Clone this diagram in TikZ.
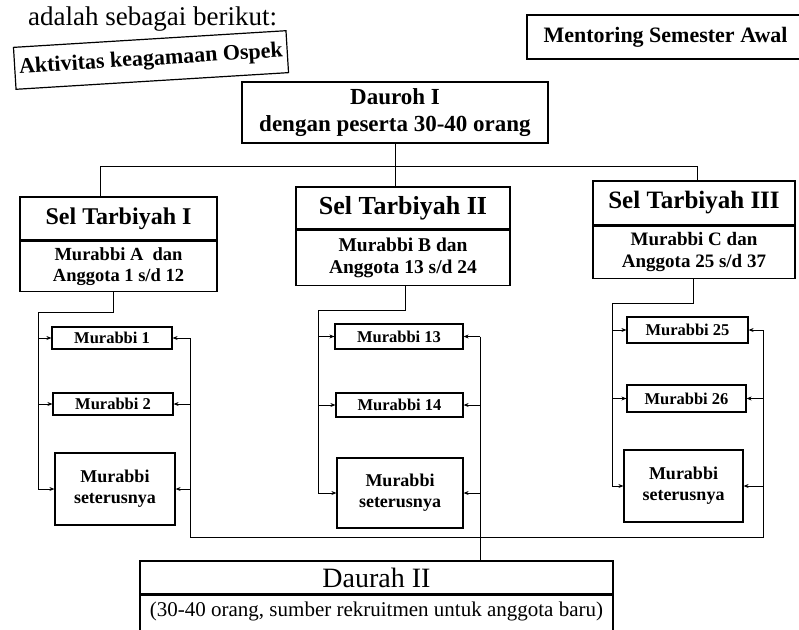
\documentclass[tikz,border=0pt]{standalone}
\usepackage{fontspec}
\setmainfont{Liberation Serif}
\usetikzlibrary{arrows.meta}
\begin{document}
\begin{tikzpicture}[x=1pt,y=-1pt,
  box/.style={draw, line width=1.2pt, inner sep=0pt, align=center, fill=white},
  conn/.style={line width=1pt},
  arr/.style={line width=1pt, -{Stealth[length=5pt,width=4pt]}},
  ttl/.style={font=\fontsize{24}{28}\selectfont\bfseries},
  sub/.style={font=\fontsize{18.5}{21}\selectfont\bfseries},
  mur/.style={font=\fontsize{16.5}{19}\selectfont\bfseries},
  mus/.style={font=\fontsize{18}{21}\selectfont\bfseries}]
\useasboundingbox (0,0) rectangle (799,629);
\clip (0,0) rectangle (799,629);
% intro text
\node[anchor=base west, inner sep=0pt, font=\fontsize{27}{31}\selectfont] (intro) at (28,25) {adalah sebagai berikut:};
% top boxes
\node[box, rotate=3.5, minimum width=273pt, minimum height=42pt, font=\fontsize{22}{26}\selectfont\bfseries] (akt) at (151,60) {Aktivitas keagamaan Ospek};
\node[box, minimum width=277pt, minimum height=44pt, font=\fontsize{22}{26}\selectfont\bfseries] (ment) at (665.5,37) {Mentoring Semester Awal};
\node[box, minimum width=306pt, minimum height=61pt, font=\fontsize{23}{27}\selectfont\bfseries] (d1) at (395,112.5) {Dauroh I\\dengan peserta 30-40 orang};
% Sel Tarbiyah boxes
\node[box, ttl, minimum width=197pt, minimum height=43pt] (s1h) at (118.5,218.5) {Sel Tarbiyah I};
\node[box, sub, minimum width=197pt, minimum height=50pt, anchor=north] (s1b) at (s1h.south) {Murabbi A\ \ dan\\Anggota 1 s/d 12};
\node[box, ttl, font=\fontsize{26}{30}\selectfont\bfseries, minimum width=214pt, minimum height=42pt] (s2h) at (403,208) {Sel Tarbiyah II};
\node[box, sub, font=\fontsize{19.5}{22}\selectfont\bfseries, minimum width=214pt, minimum height=55pt, anchor=north] (s2b) at (s2h.south) {Murabbi B dan\\Anggota 13 s/d 24};
\node[box, ttl, font=\fontsize{25}{29}\selectfont\bfseries, minimum width=202pt, minimum height=44pt] (s3h) at (694,203) {Sel Tarbiyah III};
\node[box, sub, font=\fontsize{19}{22}\selectfont\bfseries, minimum width=202pt, minimum height=52pt, anchor=north] (s3b) at (s3h.south) {Murabbi C dan\\Anggota 25 s/d 37};
% Murabbi boxes
\node[box, mur, minimum width=120pt, minimum height=22pt] (m1) at (112,338) {Murabbi 1};
\node[box, mur, minimum width=120pt, minimum height=22pt] (m2) at (113,404) {Murabbi 2};
\node[box, mus, minimum width=120pt, minimum height=72pt] (ms1) at (115,489) {Murabbi\\seterusnya};
\node[box, mur, minimum width=128pt, minimum height=25pt] (m13) at (399,336.5) {Murabbi 13};
\node[box, mur, minimum width=127pt, minimum height=24pt] (m14) at (399.5,405) {Murabbi 14};
\node[box, mus, minimum width=126pt, minimum height=70pt] (ms2) at (400,493) {Murabbi\\seterusnya};
\node[box, mur, minimum width=121pt, minimum height=26pt] (m25) at (687.5,330) {Murabbi 25};
\node[box, mur, minimum width=119pt, minimum height=27pt] (m26) at (686.5,398.5) {Murabbi 26};
\node[box, mus, minimum width=119pt, minimum height=72pt] (ms3) at (683.5,486) {Murabbi\\seterusnya};
% Daurah II
\node[box, font=\fontsize{28}{32}\selectfont, minimum width=473pt, minimum height=33pt] (d2h) at (376.5,577.5) {Daurah II};
\node[box, minimum width=473pt, minimum height=42pt, anchor=north] (d2b) at (d2h.south) {};
\node[font=\fontsize{21}{24}\selectfont, inner sep=0pt] (d2t) at (376.5,611) {(30-40 orang, sumber rekruitmen untuk anggota baru)};
% bus from Dauroh I
\coordinate (busL) at (100,166);
\coordinate (busR) at (697,166);
\draw[conn] (d1.south) -- (s2h.north -| d1.south);
\draw[conn] (s1h.north -| busL) -- (busL) -- (busR) -- (s3h.north -| busR);
% group I
\coordinate (t1) at (113,312);
\coordinate (l1) at (38,312);
\draw[arr] (s1b.south -| t1) -- (t1) -- (l1) -- (l1 |- ms1.west) -- (ms1.west);
\draw[arr] (l1 |- m1.west) -- (m1.west);
\draw[arr] (l1 |- m2.west) -- (m2.west);
% group II
\coordinate (t2) at (405,310);
\coordinate (l2) at (318,310);
\draw[arr] (s2b.south -| t2) -- (t2) -- (l2) -- (l2 |- ms2.west) -- (ms2.west);
\draw[arr] (l2 |- m13.west) -- (m13.west);
\draw[arr] (l2 |- m14.west) -- (m14.west);
% group III
\coordinate (t3) at (693,303);
\coordinate (l3) at (612,303);
\draw[arr] (s3b.south -| t3) -- (t3) -- (l3) -- (l3 |- ms3.west) -- (ms3.west);
\draw[arr] (l3 |- m25.west) -- (m25.west);
\draw[arr] (l3 |- m26.west) -- (m26.west);
% return lines
\coordinate (b1) at (190,537);
\coordinate (b3) at (763,537);
\coordinate (b2) at (480,537);
\draw[conn] (b1 |- m1.east) -- (b1) -- (b3) -- (b3 |- m25.east);
\draw[conn] (b2 |- m13.east) -- (b2 |- d2h.north);
\foreach \n in {m1,m2,ms1} \draw[arr] (b1 |- \n.east) -- (\n.east);
\foreach \n in {m13,m14,ms2} \draw[arr] (b2 |- \n.east) -- (\n.east);
\foreach \n in {m25,m26,ms3} \draw[arr] (b3 |- \n.east) -- (\n.east);
\end{tikzpicture}
\end{document}
